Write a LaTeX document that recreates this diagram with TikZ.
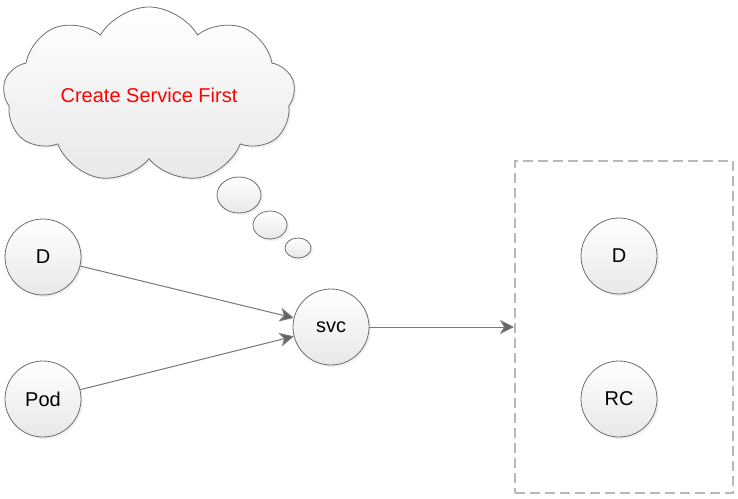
\documentclass[tikz,border=0pt]{standalone}
\usepackage{fontspec}
\setmainfont{Liberation Sans}
\definecolor{nodeline}{RGB}{110, 110, 110}
\definecolor{edgegray}{RGB}{120, 120, 120}
\definecolor{headgray}{RGB}{100, 100, 100}
\definecolor{boxgray}{RGB}{185, 185, 185}
\definecolor{shadegray}{RGB}{232, 232, 232}
\usetikzlibrary{shapes.geometric, shapes.symbols, arrows.meta, shadows}
\tikzset{
    objnode/.style={draw=nodeline, circle, minimum size=38pt, inner sep=0pt, font=\fontsize{10}{12}\selectfont,
        top color=white, bottom color=shadegray, drop shadow={opacity=0.12, shadow xshift=1pt, shadow yshift=-1pt}},
    thought/.style={draw=nodeline, ellipse, inner sep=0pt, top color=white, bottom color=shadegray,
        drop shadow={opacity=0.12, shadow xshift=1pt, shadow yshift=-1pt}},
    groupbox/.style={draw=boxgray, dashed, dash pattern=on 5pt off 2.5pt, line width=1pt, rectangle},
    linkarrow/.style={-{Stealth[length=7pt, width=7pt, inset=2pt, fill=headgray]}, draw=edgegray, line width=0.5pt},
}
\begin{document}
\begin{tikzpicture}[x=0.5pt, y=-0.5pt]
    \useasboundingbox (0,0) rectangle (738,498);

    % Thought cloud
    \node[thought, cloud, cloud puffs=9, cloud puff arc=120, aspect=2.2, minimum width=146pt, minimum height=88pt,
        font=\fontsize{10}{12}\selectfont, text=red] (cloud) at (149, 95) {Create Service First};
    \node[thought, minimum width=22pt, minimum height=18pt] (bubbleA) at (239, 195) {};
    \node[thought, minimum width=17pt, minimum height=14pt] (bubbleB) at (270, 225) {};
    \node[thought, minimum width=13pt, minimum height=10pt] (bubbleC) at (298, 248) {};

    % Left objects
    \node[objnode] (d) at (43, 257) {D};
    \node[objnode] (pod) at (43, 399) {Pod};

    % Service
    \node[objnode] (svc) at (331, 327) {svc};

    % Group on the right
    \node[groupbox, minimum width=109pt, minimum height=166pt] (group) at (624, 327) {};
    \node[objnode] (dr) at (619, 256) {D};
    \node[objnode] (rc) at (619, 399) {RC};

    % Arrows
    \draw[linkarrow] (d) -- (svc);
    \draw[linkarrow] (pod) -- (svc);
    \draw[linkarrow] (svc) -- (group);
\end{tikzpicture}
\end{document}
